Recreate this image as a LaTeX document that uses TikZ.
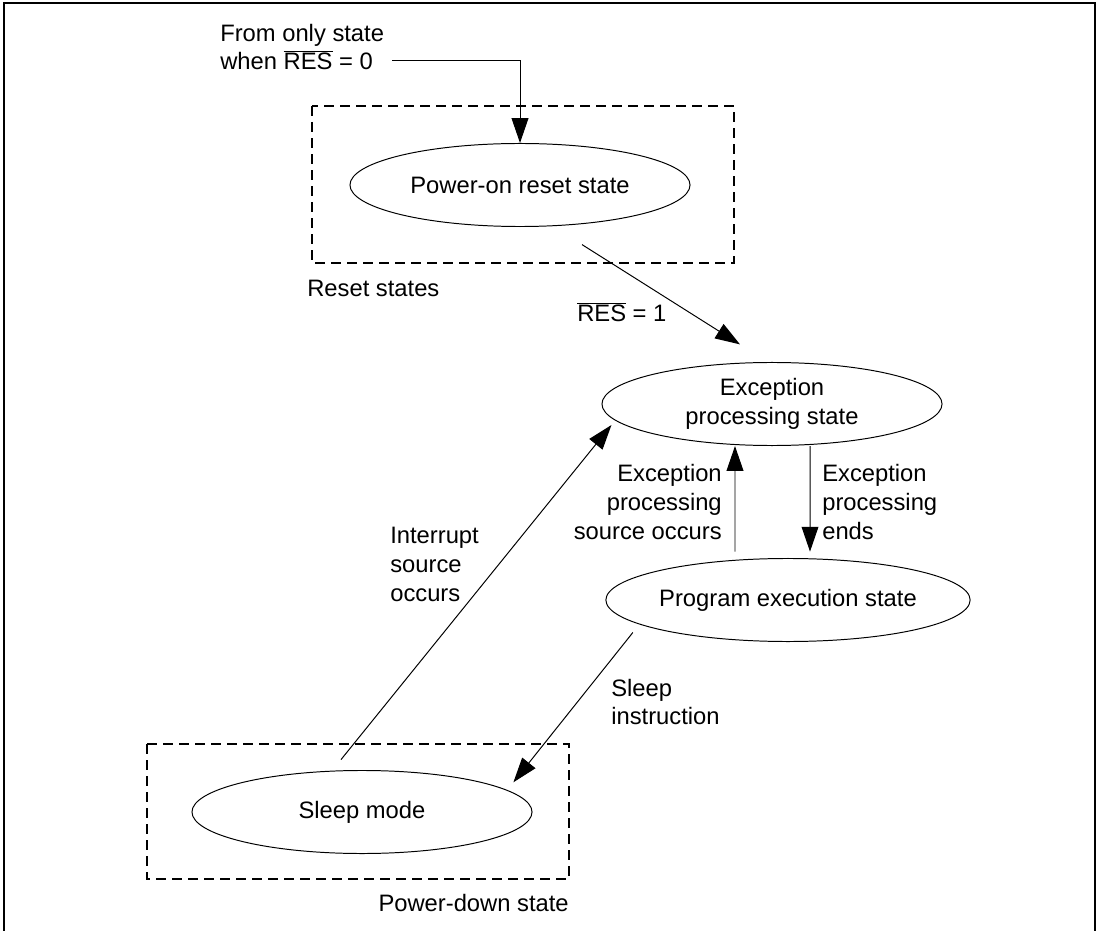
\documentclass[tikz,border=0pt]{standalone}
\usepackage{fontspec}
\setmainfont{Liberation Sans}
\usetikzlibrary{shapes.geometric,arrows.meta}
\begin{document}
\begin{tikzpicture}[x=0.025cm,y=-0.025cm,
	font=\fontsize{16.9pt}{20.6pt}\selectfont,
	state/.style={draw,ellipse,line width=0.7pt,minimum width=8.5cm,minimum height=2.075cm,inner sep=0pt,align=center},
	group/.style={draw,dash pattern=on 0.25cm off 0.15cm,line width=0.9pt},
	trans/.style={line width=0.7pt,-{Triangle[length=0.62cm,width=0.42cm]}},
	lbl/.style={inner sep=0pt}]
	\useasboundingbox (0,0) rectangle (1098,931);
	\draw[line width=1.2pt] (4,931) -- (4,3) -- (1095,3) -- (1095,931);
	% groups of states
	\draw[group] (312,106) rectangle (734,263);
	\draw[group] (147,744) rectangle (569,879);
	\node[lbl,anchor=west] (resetlbl) at (307,288) {Reset states};
	\node[lbl,anchor=east] (pdlbl) at (569,903) {Power-down state};
	% states
	\node[state] (por) at (520,185) {Power-on reset state};
	\node[state] (exc) at (772,404) {Exception\\processing state};
	\node[state] (prog) at (788,600) {Program execution state};
	\node[state] (sleep) at (362,812) {Sleep mode};
	% transitions
	\node[lbl,anchor=west,align=left] (src) at (220,47) {From only state\\when $\overline{\mbox{RES}}$ = 0};
	\coordinate (srcend) at (392,60);
	\draw[trans] (srcend) -| (por);
	\draw[trans] ([xshift=1.55cm,yshift=-0.44cm]por.south) -- ([xshift=-0.8cm,yshift=0.44cm]exc.north);
	\node[lbl,anchor=west] (reslbl) at (577,312) {$\overline{\mbox{RES}}$ = 1};
	\draw[trans] ([xshift=-1.325cm,yshift=0.16cm]prog.north) -- ([xshift=-0.925cm]exc.south);
	\draw[trans] ([xshift=0.95cm]exc.south) -- ([xshift=0.55cm,yshift=0.16cm]prog.north);
	\node[lbl,anchor=east,align=right] (srclbl) at (722,502) {Exception\\processing\\source occurs};
	\node[lbl,anchor=west,align=left] (endlbl) at (822,502) {Exception\\processing\\ends};
	\draw[trans] ([xshift=-0.65cm,yshift=-0.07cm]prog.south west) -- ([xshift=0.77cm]sleep.north east);
	\node[lbl,anchor=west,align=left] (sleeplbl) at (611,702) {Sleep\\instruction};
	\draw[trans] ([xshift=-0.525cm,yshift=0.26cm]sleep.north) -- ([xshift=0.25cm,yshift=-0.525cm]exc.west);
	\node[lbl,anchor=west,align=left] (intlbl) at (390,564) {Interrupt\\source\\occurs};
\end{tikzpicture}
\end{document}
